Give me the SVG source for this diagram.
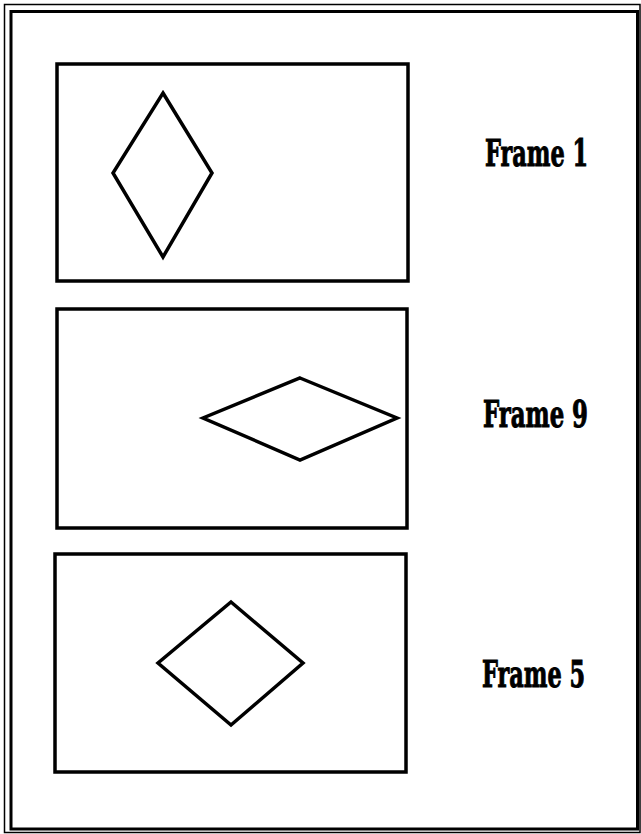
<svg xmlns="http://www.w3.org/2000/svg" width="641" height="834" viewBox="0 0 641 834">
<style>
.bg{fill:#fff}
.box{fill:none;stroke:#000;stroke-width:3.5}
.dia{fill:none;stroke:#000;stroke-width:3.5;stroke-linejoin:miter}
.lbl{font-family:"DejaVu Serif Condensed","DejaVu Serif","Liberation Serif",serif;font-weight:bold;font-size:38px;fill:#000;stroke:#000;stroke-width:1}
</style>
<rect class="bg" x="0" y="0" width="641" height="834"/>
<g id="border">
<rect x="4.5" y="4.5" width="635.5" height="828" fill="none" stroke="#000" stroke-width="1.5"/>
<rect x="11" y="11.5" width="626.5" height="817.5" fill="none" stroke="#000" stroke-width="3"/>
</g>
<g id="frame1">
<rect class="box" x="57" y="64" width="351" height="217"/>
<polygon class="dia" points="163,93 212,173 163,257 113,173"/>
<text class="lbl" x="485" y="166" textLength="103" lengthAdjust="spacingAndGlyphs">Frame 1</text>
</g>
<g id="frame9">
<rect class="box" x="57" y="309" width="350" height="219"/>
<polygon class="dia" points="300,378 397,418 300,460 203,418"/>
<text class="lbl" x="483" y="427" textLength="105" lengthAdjust="spacingAndGlyphs">Frame 9</text>
</g>
<g id="frame5">
<rect class="box" x="55" y="554" width="351" height="218"/>
<polygon class="dia" points="231,602 303,663 231,725 158,663"/>
<text class="lbl" x="482" y="687" textLength="103" lengthAdjust="spacingAndGlyphs">Frame 5</text>
</g>
<g id="connectors"></g>
</svg>
